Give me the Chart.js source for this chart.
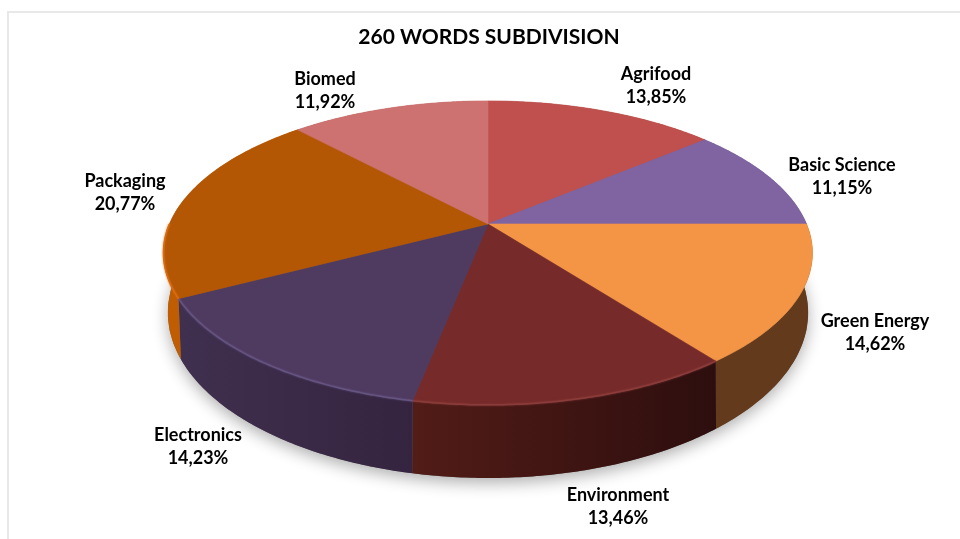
<!DOCTYPE html>
<html>
<head>
<meta charset="utf-8">
<title>260 Words Subdivision</title>
<script src="https://cdn.jsdelivr.net/npm/chart.js@4/dist/chart.umd.min.js"></script>
<style>
    html, body { margin: 0; padding: 0; background: #fff; }
    canvas { display: block; }
</style>
</head>
<body>
<canvas id="chart" width="960" height="539"></canvas>
<script>
const titulo = '260 WORDS SUBDIVISION';
const categorias = ['Agrifood', 'Basic Science', 'Green Energy', 'Environment', 'Electronics', 'Packaging', 'Biomed'];
const valores = [13.85, 11.15, 14.62, 13.46, 14.23, 20.77, 11.92];
const rotulos = ['13,85%', '11,15%', '14,62%', '13,46%', '14,23%', '20,77%', '11,92%'];

// Colours: top face, wall (left and right of the slice), rim highlight
const coresTopo = ['#c0504d', '#8064a2', '#f49445', '#772a2a', '#4f3a60', '#b45705', '#cd7270'];
const coresParedeA = ['#8c3a38', '#5c4875', '#643a1c', '#521c17', '#40304f', '#c05c02', '#94524f'];
const coresParedeB = ['#8c3a38', '#5c4875', '#643a1c', '#2d0e0e', '#34243f', '#a85000', '#94524f'];
const coresBrilho = [null, null, null, '#8a3c3a', '#655380', '#d96c10', null];

// Where each label block is centred
const rotuloX = [656, 842, 875, 618, 198, 125, 325];
const rotuloY = [85, 176, 332, 506, 446, 192, 90];

// Perspective of the disc: top face and the base under it
const topo = { cx: 488, cy: 224, a: 318.6, b: 146.5, k: 0.19 };
const base = { cx: 488, cy: 278, a: 313, b: 158, k: 0.21 };

function projetar(p, ang) {
    const w = 1 - p.k * Math.sin(ang);
    return {
        x: p.cx + p.a * Math.cos(ang) / w,
        y: p.cy + p.b * Math.sin(ang) / w
    };
}

function tracarArco(ctx, p, ini, fim) {
    const passos = 80;
    for (let i = 0; i <= passos; i++) {
        const q = projetar(p, ini + (fim - ini) * i / passos);
        ctx.lineTo(q.x, q.y);
    }
}

const pizza3d = {
    id: 'pizza3d',
    beforeDraw(chart) {
        // Thin frame of the original picture
        const ctx = chart.ctx;
        ctx.save();
        ctx.strokeStyle = '#e8e8e8';
        ctx.lineWidth = 2;
        ctx.beginPath();
        ctx.moveTo(8, 539);
        ctx.lineTo(8, 12);
        ctx.lineTo(960, 12);
        ctx.stroke();
        ctx.restore();
    },
    beforeDatasetDraw(chart) {
        const ctx = chart.ctx;
        const arcos = chart.getDatasetMeta(0).data;

        // Soft shadow under the base
        ctx.save();
        ctx.shadowColor = 'rgba(0,0,0,0.32)';
        ctx.shadowBlur = 16;
        ctx.shadowOffsetY = 5;
        ctx.fillStyle = '#666';
        ctx.beginPath();
        tracarArco(ctx, base, 0, Math.PI * 2);
        ctx.closePath();
        ctx.fill();
        ctx.restore();

        // Walls
        arcos.forEach((arc, i) => {
            const ini = arc.startAngle, fim = arc.endAngle;
            const p0 = projetar(topo, ini), p1 = projetar(topo, fim);
            const grad = ctx.createLinearGradient(Math.min(p0.x, p1.x), 0, Math.max(p0.x, p1.x), 0);
            grad.addColorStop(0, coresParedeA[i]);
            grad.addColorStop(1, coresParedeB[i]);
            ctx.fillStyle = grad;
            ctx.beginPath();
            tracarArco(ctx, topo, ini, fim);
            tracarArco(ctx, base, fim, ini);
            ctx.closePath();
            ctx.fill();
        });

        // Top faces
        arcos.forEach((arc, i) => {
            ctx.fillStyle = coresTopo[i];
            ctx.strokeStyle = coresTopo[i];
            ctx.lineWidth = 0.6;
            ctx.beginPath();
            ctx.moveTo(topo.cx, topo.cy);
            tracarArco(ctx, topo, arc.startAngle, arc.endAngle);
            ctx.closePath();
            ctx.fill();
            ctx.stroke();
        });

        // Bevel highlight, only on the front half of the edge
        arcos.forEach((arc, i) => {
            if (!coresBrilho[i]) return;
            ctx.save();
            ctx.strokeStyle = coresBrilho[i];
            ctx.lineWidth = 1.5;
            ctx.shadowColor = coresBrilho[i];
            ctx.shadowBlur = 2;
            ctx.beginPath();
            tracarArco(ctx, topo, arc.startAngle, Math.min(arc.endAngle, Math.PI));
            ctx.stroke();
            ctx.restore();
        });

        // Data labels
        ctx.save();
        ctx.fillStyle = '#000';
        ctx.font = 'bold 18px Lato';
        ctx.textAlign = 'center';
        ctx.textBaseline = 'middle';
        categorias.forEach((nome, i) => {
            ctx.fillText(nome, rotuloX[i], rotuloY[i] - 11);
            ctx.fillText(rotulos[i], rotuloX[i], rotuloY[i] + 12);
        });
        ctx.restore();

        return false;
    }
};

new Chart(document.getElementById('chart').getContext('2d'), {
    type: 'pie',
    data: {
        labels: categorias,
        datasets: [{ data: valores, backgroundColor: coresTopo, borderWidth: 0 }]
    },
    plugins: [pizza3d],
    options: {
        responsive: false,
        animation: false,
        layout: { padding: { left: 18 } },
        plugins: {
            legend: { display: false },
            tooltip: { enabled: false },
            title: {
                display: true,
                text: titulo,
                color: '#000',
                font: { family: 'Lato', size: 21, weight: 'bold' },
                padding: { top: 25, bottom: 10 }
            }
        }
    }
});
</script>
</body>
</html>
